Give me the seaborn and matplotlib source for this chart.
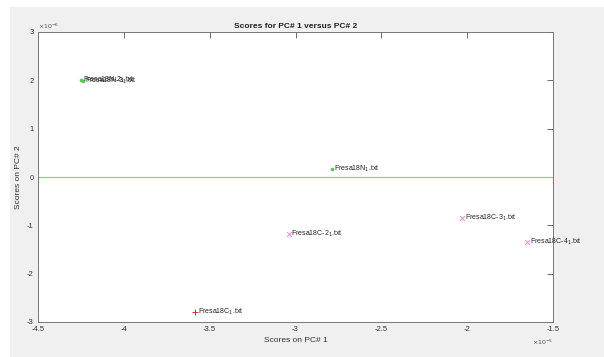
import matplotlib
matplotlib.use("Agg")
import matplotlib.pyplot as plt
import seaborn as sns
import pandas as pd
from matplotlib.patches import Rectangle
from matplotlib.ticker import FuncFormatter, MultipleLocator

sns.set_style("white")
plt.rcParams['font.family'] = ['Liberation Sans', 'DejaVu Sans']

# data (x in 1e-5 units, y in 1e-6 units)
labels = ["Fresa18N-2$_1$.txt", "Fresa18N-3$_1$.txt", "Fresa18N$_1$.txt",
          "Fresa18C-2$_1$.txt", "Fresa18C-3$_1$.txt", "Fresa18C-4$_1$.txt",
          "Fresa18C$_1$.txt"]
pc1 = [-4.25, -4.24, -2.79, -3.04, -2.03, -1.65, -3.585]
pc2 = [2.00, 1.99, 0.17, -1.18, -0.85, -1.34, -2.79]
groups = ["N", "N", "N", "C2", "C2", "C2", "C1"]

df = pd.DataFrame({"pc1": pc1, "pc2": pc2, "group": groups, "label": labels})

fig = plt.figure(figsize=(6.04, 3.57), dpi=100, facecolor="white")
fig.patches.append(Rectangle((10/604, 0), 1 - 10/604, 1 - 7/357,
                             transform=fig.transFigure, facecolor="#f0f0f0",
                             edgecolor="none", zorder=-10))
ax = fig.add_axes([38/604, 1 - 322/357, 515/604, 290/357])
ax.set_facecolor("white")

ax.axhline(0, color="#77dd77", lw=0.9, zorder=1)

styles = {"N": ("#55cc55", "o", 7, 0), "C2": ("#e08ae0", "x", 12, 0.7),
          "C1": ("#cc3333", "+", 16, 0.7)}
for g, (c, m, s, lw) in styles.items():
    sub = df[df["group"] == g]
    sns.scatterplot(data=sub, x="pc1", y="pc2", color=c, marker=m, s=s,
                    linewidth=lw, legend=False, ax=ax, zorder=3)

for x, y, t in zip(pc1, pc2, labels):
    ax.text(x + 0.015, y, t, fontsize=5.0, color="#222222", va="center", ha="left")

ax.set_xlim(-4.5, -1.5)
ax.set_ylim(-3, 3)
ax.xaxis.set_major_locator(MultipleLocator(0.5))
ax.yaxis.set_major_locator(MultipleLocator(1))
fmt = FuncFormatter(lambda v, p: "%g" % round(v, 2))
ax.xaxis.set_major_formatter(fmt)
ax.yaxis.set_major_formatter(fmt)
ax.tick_params(direction="in", length=4, width=0.6, colors="#555555",
               labelsize=5.5, top=True, right=True, pad=3, labelcolor="#333333")
for s in ax.spines.values():
    s.set_color("#777777")
    s.set_linewidth(0.7)

ax.set_xlabel("Scores on PC# 1", fontsize=6, color="#333333", labelpad=3)
ax.set_ylabel("Scores on PC# 2", fontsize=6, color="#333333", labelpad=4)
ax.set_title("Scores for PC# 1 versus PC# 2", fontsize=6, fontweight="bold",
             color="#222222", pad=3)

ax.text(0.0, 1.005, r"$\times10^{-6}$", transform=ax.transAxes, fontsize=4.5,
        color="#555555", ha="left", va="bottom")
ax.text(1.0, -0.055, r"$\times10^{-5}$", transform=ax.transAxes, fontsize=4.5,
        color="#555555", ha="right", va="top")

fig.savefig("out.png", dpi=100, facecolor=fig.get_facecolor())
